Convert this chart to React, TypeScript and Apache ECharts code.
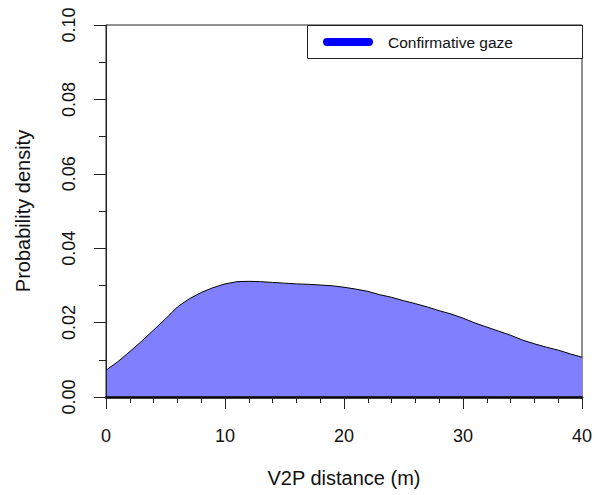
import React, { useEffect, useRef } from "react";
import * as echarts from "echarts";

// V2P distance (m), sampled every metre
const distances: number[] = [
  0, 1, 2, 3, 4, 5, 6, 7, 8, 9, 10, 11, 12, 13, 14, 15, 16, 17, 18, 19, 20,
  21, 22, 23, 24, 25, 26, 27, 28, 29, 30, 31, 32, 33, 34, 35, 36, 37, 38, 39, 40,
];

// Estimated probability density of confirmative gaze
const density: number[] = [
  0.0072, 0.0095, 0.0122, 0.015, 0.018, 0.021, 0.0242, 0.0264, 0.0281, 0.0294,
  0.0304, 0.031, 0.0311, 0.031, 0.0308, 0.0306, 0.0304, 0.0303, 0.0301, 0.0299,
  0.0295, 0.029, 0.0284, 0.0275, 0.0268, 0.0259, 0.0251, 0.0242, 0.0232, 0.0223,
  0.0212, 0.0199, 0.0188, 0.0177, 0.0166, 0.0153, 0.0143, 0.0134, 0.0126, 0.0116,
  0.0107,
];

const seriesName = "Confirmative gaze";
const xTitle = "V2P distance (m)";
const yTitle = "Probability density";

const FONT = "'Liberation Sans', Arial, Helvetica, sans-serif";

export default function App() {
  const ref = useRef<HTMLDivElement>(null);

  useEffect(() => {
    if (!ref.current) return;
    const chart = echarts.init(ref.current, undefined, { renderer: "svg" });

    const points = distances.map((d, i) => [d, density[i]]);

    chart.setOption({
      animation: false,
      backgroundColor: "#ffffff",
      grid: {
        left: 106,
        top: 25,
        right: 16,
        bottom: 98,
        show: true,
        borderColor: "#222",
        borderWidth: 1,
        backgroundColor: "transparent",
      },
      xAxis: {
        type: "value",
        min: 0,
        max: 40,
        interval: 10,
        z: 10,
        name: xTitle,
        nameLocation: "middle",
        nameGap: 71,
        nameTextStyle: { fontFamily: FONT, fontSize: 20, color: "#111" },
        axisLine: { show: true, onZero: false, lineStyle: { color: "#000", width: 2.5 } },
        axisTick: { show: true, inside: false, length: 12, lineStyle: { color: "#222", width: 1 } },
        minorTick: { show: true, splitNumber: 5, length: 6, lineStyle: { color: "#222", width: 1 } },
        splitLine: { show: false },
        axisLabel: { fontFamily: FONT, fontSize: 18, color: "#111", margin: 30 },
      },
      yAxis: {
        type: "value",
        min: 0,
        max: 0.1,
        interval: 0.02,
        z: 10,
        name: yTitle,
        nameLocation: "middle",
        nameGap: 73,
        nameRotate: 90,
        nameTextStyle: { fontFamily: FONT, fontSize: 20, color: "#111" },
        axisLine: { show: true, onZero: false, lineStyle: { color: "#222", width: 1 } },
        axisTick: { show: true, inside: false, length: 12, lineStyle: { color: "#222", width: 1 } },
        minorTick: { show: true, splitNumber: 2, length: 7, lineStyle: { color: "#222", width: 1 } },
        splitLine: { show: false },
        axisLabel: {
          fontFamily: FONT,
          fontSize: 18,
          color: "#111",
          rotate: 90,
          margin: 28,
          formatter: (v: number) => v.toFixed(2),
        },
      },
      series: [
        {
          name: seriesName,
          type: "line",
          data: points,
          showSymbol: false,
          smooth: false,
          lineStyle: { color: "#000", width: 1 },
          areaStyle: { color: "#8080ff", opacity: 1 },
          itemStyle: { color: "#0000ff" },
        },
      ],
      graphic: [
        {
          type: "rect",
          z: 20,
          shape: { x: 307.5, y: 25.5, width: 275, height: 33 },
          style: { fill: "#fff", stroke: "#222", lineWidth: 1 },
        },
        {
          type: "line",
          z: 21,
          shape: { x1: 327, y1: 42, x2: 369, y2: 42 },
          style: { stroke: "#0000ff", lineWidth: 8, lineCap: "round" },
        },
        {
          type: "text",
          z: 21,
          x: 388,
          y: 42,
          style: {
            text: seriesName,
            fontFamily: FONT,
            fontSize: 15.5,
            fill: "#111",
            verticalAlign: "middle",
            align: "left",
          },
        },
      ],
    });

    return () => chart.dispose();
  }, []);

  return (
    <div
      ref={ref}
      style={{ position: "fixed", left: 0, top: 0, width: 598, height: 495 }}
    />
  );
}
